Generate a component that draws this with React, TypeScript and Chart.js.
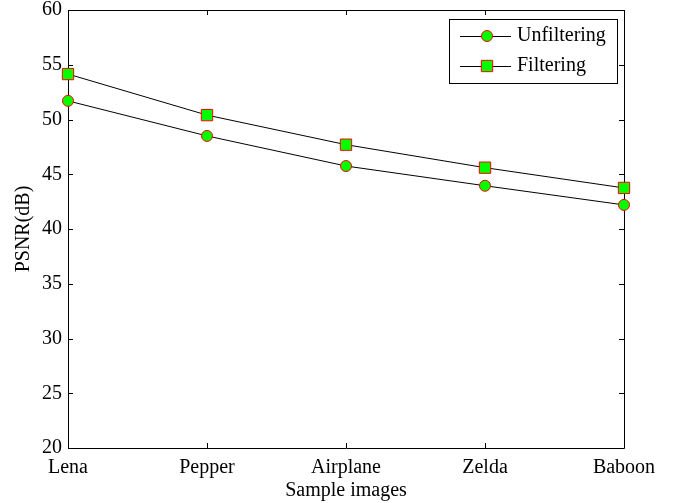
import React, { useEffect, useRef } from "react";
import { Chart, registerables } from "chart.js";

Chart.register(...registerables);

const categories = ["Lena", "Pepper", "Airplane", "Zelda", "Baboon"];
const unfiltering = [51.7, 48.5, 45.75, 43.95, 42.2];
const filtering = [54.15, 50.4, 47.7, 45.6, 43.75];
const seriesNames = ["Unfiltering", "Filtering"];
const yMin = 20;
const yMax = 60;
const yStep = 5;

const FONT = "'Liberation Serif', 'Times New Roman', serif";

const boxPlugin = {
  id: "matlabBox",
  beforeDatasetsDraw(chart: any) {
    const { ctx, chartArea } = chart;
    const { left, right, top, bottom } = chartArea;
    const xs = chart.scales.x;
    const ys = chart.scales.y;
    ctx.save();
    ctx.strokeStyle = "#000";
    ctx.lineWidth = 1;
    ctx.beginPath();
    ctx.rect(Math.round(left) + 0.5, Math.round(top) + 0.5, Math.round(right - left), Math.round(bottom - top));
    ctx.stroke();
    const tl = 5;
    ctx.beginPath();
    xs.ticks.forEach((_: any, i: number) => {
      const px = Math.round(xs.getPixelForTick(i)) + 0.5;
      ctx.moveTo(px, bottom);
      ctx.lineTo(px, bottom - tl);
      ctx.moveTo(px, top);
      ctx.lineTo(px, top + tl);
    });
    ys.ticks.forEach((_: any, i: number) => {
      const py = Math.round(ys.getPixelForTick(i)) + 0.5;
      ctx.moveTo(left, py);
      ctx.lineTo(left + tl, py);
      ctx.moveTo(right, py);
      ctx.lineTo(right - tl, py);
    });
    ctx.stroke();
    ctx.restore();
  },
};

const legendPlugin = {
  id: "matlabLegend",
  afterDraw(chart: any) {
    const { ctx, chartArea } = chart;
    const bx = chartArea.right - 175;
    const by = chartArea.top + 9;
    const bw = 168;
    const bh = 64;
    ctx.save();
    ctx.fillStyle = "#fff";
    ctx.fillRect(bx, by, bw, bh);
    ctx.strokeStyle = "#000";
    ctx.lineWidth = 1;
    ctx.strokeRect(bx + 0.5, by + 0.5, bw, bh);
    chart.data.datasets.forEach((ds: any, i: number) => {
      const cy = by + 17 + i * 30;
      ctx.strokeStyle = "#000";
      ctx.lineWidth = 1;
      ctx.beginPath();
      ctx.moveTo(bx + 11, cy + 0.5);
      ctx.lineTo(bx + 62, cy + 0.5);
      ctx.stroke();
      ctx.fillStyle = ds.pointBackgroundColor;
      ctx.strokeStyle = ds.pointBorderColor;
      ctx.lineWidth = 1;
      const mx = bx + 38;
      if (ds.pointStyle === "rect") {
        const s = ds.pointRadius * Math.SQRT1_2;
        ctx.beginPath();
        ctx.rect(mx - s, cy - s, 2 * s, 2 * s);
        ctx.fill();
        ctx.stroke();
      } else {
        ctx.beginPath();
        ctx.arc(mx, cy, ds.pointRadius, 0, Math.PI * 2);
        ctx.fill();
        ctx.stroke();
      }
      ctx.fillStyle = "#000";
      ctx.font = `20px ${FONT}`;
      ctx.textBaseline = "middle";
      ctx.textAlign = "left";
      ctx.fillText(ds.label, bx + 68, cy);
    });
    ctx.restore();
  },
};

export default function App() {
  const ref = useRef<HTMLCanvasElement>(null);
  useEffect(() => {
    document.body.style.margin = "0";
    const chart = new Chart(ref.current!, {
      type: "line",
      data: {
        labels: categories,
        datasets: [
          {
            label: seriesNames[0],
            data: unfiltering,
            borderColor: "#000",
            borderWidth: 1,
            pointStyle: "circle",
            pointRadius: 5.5,
            pointBackgroundColor: "#00ff00",
            pointBorderColor: "#ff0000",
            pointBorderWidth: 1,
            clip: false,
          } as any,
          {
            label: seriesNames[1],
            data: filtering,
            borderColor: "#000",
            borderWidth: 1,
            pointStyle: "rect",
            pointRadius: 8,
            pointBackgroundColor: "#00ff00",
            pointBorderColor: "#ff0000",
            pointBorderWidth: 1,
            clip: false,
          } as any,
        ],
      },
      options: {
        animation: false,
        responsive: false,
        layout: { padding: { top: 10, right: 49, left: 0, bottom: 0 } },
        plugins: { legend: { display: false }, tooltip: { enabled: false } },
        scales: {
          x: {
            type: "category",
            offset: false,
            grid: { display: false, drawTicks: false },
            border: { display: false },
            ticks: { color: "#000", font: { family: FONT, size: 20 }, padding: 8, maxRotation: 0, autoSkip: false },
            title: { display: true, text: "Sample images", color: "#000", font: { family: FONT, size: 20 }, padding: { top: 0, bottom: 0 } },
            afterFit(scale: any) {
              scale.height = 55;
              scale.paddingLeft = 0;
              scale.paddingRight = 0;
            },
          },
          y: {
            min: yMin,
            max: yMax,
            grid: { display: false, drawTicks: false },
            border: { display: false },
            ticks: { stepSize: yStep, color: "#000", font: { family: FONT, size: 20 }, padding: 6 },
            title: { display: true, text: "PSNR(dB)", color: "#000", font: { family: FONT, size: 20 }, padding: { top: 12, bottom: 0 } },
            afterFit(scale: any) {
              scale.width = 68;
              scale.paddingTop = 0;
              scale.paddingBottom = 0;
            },
          },
        },
      },
      plugins: [boxPlugin, legendPlugin],
    });
    return () => chart.destroy();
  }, []);
  return (
    <div style={{ width: 673, height: 503 }}>
      <canvas ref={ref} width={673} height={503} style={{ display: "block" }} />
    </div>
  );
}
